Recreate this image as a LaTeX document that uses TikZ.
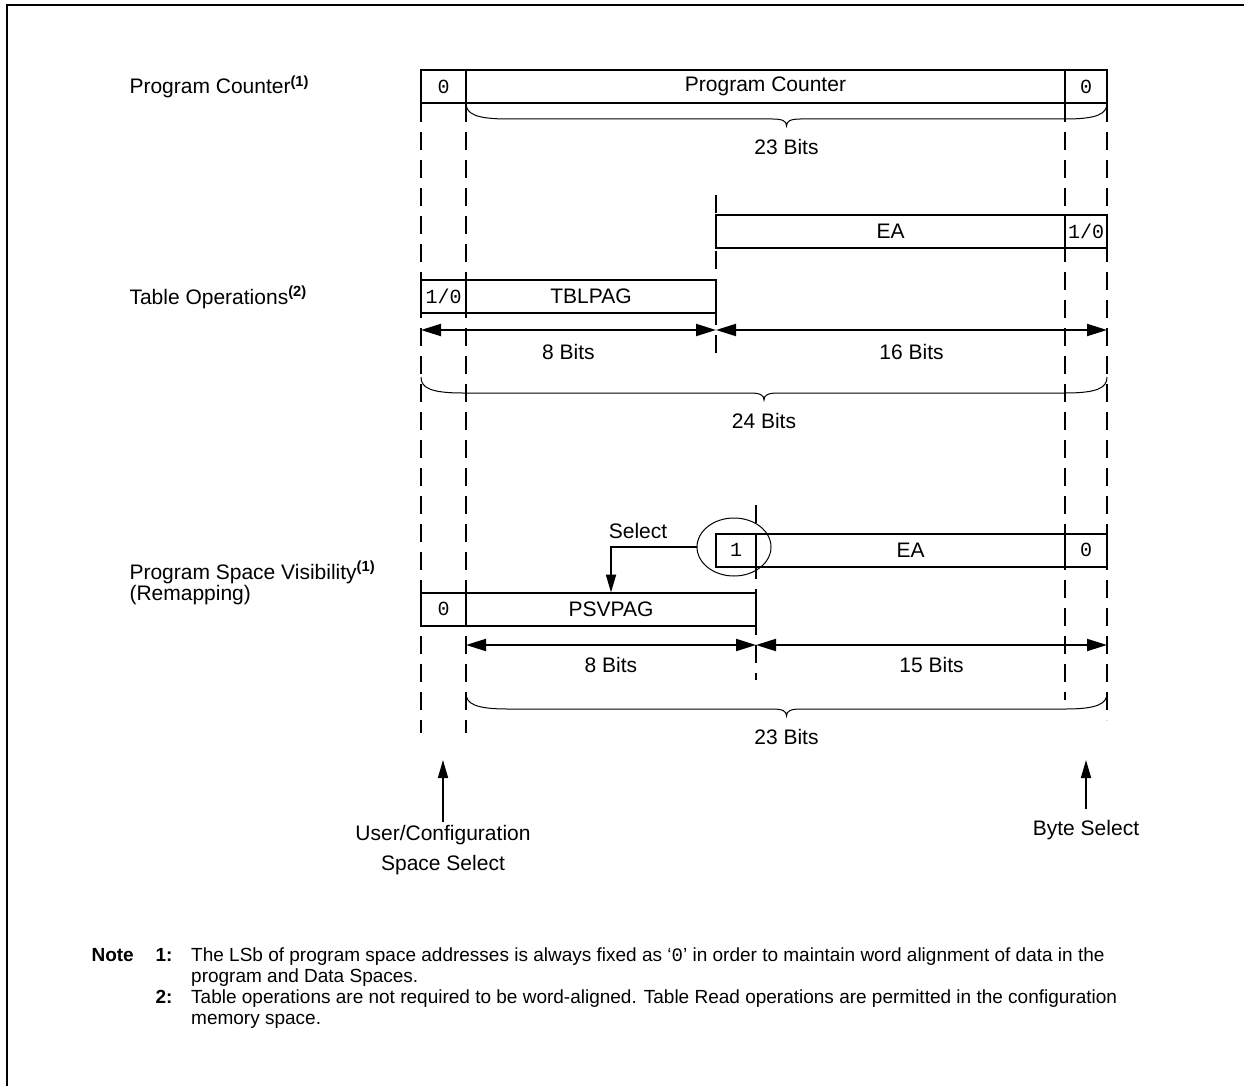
\documentclass[tikz,border=0pt]{standalone}
\usepackage{fontspec}
\setmainfont{Liberation Sans}
\newfontfamily\bitfont{Liberation Mono}
\usetikzlibrary{arrows.meta}
\usetikzlibrary{positioning}
\usetikzlibrary{shapes.geometric}

\newcommand{\lblsize}{\fontsize{21}{25}\selectfont}
\newcommand{\notesize}{\fontsize{19}{21}\selectfont}
\newcommand{\fnref}[1]{\textsuperscript{\bfseries(#1)}}
% brace under a field: name, left x, right x, top y, label
\newcommand{\bitbrace}[5]{%
    \pgfmathsetmacro{\bmid}{(#2+#3)/2}
    \draw[line width=1pt] (#2,#4) .. controls (#2,#4+11) and (#2+10,#4+16) .. (#2+42,#4+16)
      -- (\bmid-14,#4+16) .. controls (\bmid-4,#4+16) and (\bmid,#4+18) .. (\bmid,#4+23)
      .. controls (\bmid,#4+18) and (\bmid+4,#4+16) .. (\bmid+14,#4+16)
      -- (#3-42,#4+16) .. controls (#3-10,#4+16) and (#3,#4+11) .. (#3,#4);
    \node[font=\lblsize] (#1) at (\bmid,#4+44) {#5};
}

\tikzset{
    cell/.style={draw, line width=2pt, minimum height=33pt, inner sep=0pt,
        outer sep=0pt, font=\lblsize},
    bitcell/.style={cell, font=\bitfont\fontsize{20}{22}\selectfont},
    guide/.style={line width=2pt, dash pattern=on 18pt off 10pt},
    dimline/.style={line width=2pt,
        {Triangle[length=20pt,width=12pt]}-{Triangle[length=20pt,width=12pt]}},
    pointer/.style={line width=1.6pt, -{Triangle[length=18pt,width=10pt]}},
    dimlabel/.style={font=\lblsize, midway, yshift=-22pt},
    rowlabel/.style={font=\lblsize, anchor=base west},
    notetext/.style={font=\notesize, anchor=base west, inner xsep=0pt},
}

\begin{document}
\begin{tikzpicture}[x=1pt, y=-1pt]
    \useasboundingbox (0,0) rectangle (1244,1086);
    \draw[line width=2pt] (1244,5) -- (7,5) -- (7,1086);

    % bit column guides
    \foreach \gx/\gtop/\gbot in {421/104/733, 466/104/733, 1065/104/700,
        1107/104/720, 716/195/360, 756/505/680}
      \draw[guide] (\gx,\gtop) -- (\gx,\gbot);

    % row labels
    \node[rowlabel] (pclabel) at (126,94) {Program Counter\fnref{1}};
    \node[rowlabel] (tbllabel) at (126,304) {Table Operations\fnref{2}};
    \node[rowlabel] (psvlabel) at (126,579) {Program Space Visibility\fnref{1}};
    \node[rowlabel, inner ysep=1pt] (remaplabel) at (126,600) {(Remapping)};

    % program counter
    \node[bitcell, minimum width=45pt] (pcmsb) at (443.5,86.5) {0};
    \node[cell, minimum width=599pt, right=0pt of pcmsb] (pcmain) {Program Counter};
    \node[bitcell, minimum width=42pt, right=0pt of pcmain] (pclsb) {0};
    \bitbrace{pcbits}{466}{1107}{103}{23 Bits}

    % table operations
    \node[cell, minimum width=349pt] (tblea) at (890.5,231.5) {EA};
    \node[bitcell, minimum width=42pt, right=0pt of tblea] (tbllsb) {1/0};
    \node[bitcell, minimum width=45pt] (tblmsb) at (443.5,296.5) {1/0};
    \node[cell, minimum width=250pt, right=0pt of tblmsb] (tblpag) {TBLPAG};
    \coordinate (tblarrl) at (421,330);
    \coordinate (tblarrm) at (716,330);
    \coordinate (tblarrr) at (1107,330);
    \draw[dimline] (tblarrl) -- node[dimlabel] {8 Bits} (tblarrm);
    \draw[dimline] (tblarrm) -- node[dimlabel] {16 Bits} (tblarrr);
    \bitbrace{tblbits}{421}{1107}{377}{24 Bits}

    % program space visibility
    \node[bitcell, minimum width=40pt] (psvsel) at (736,550) {1};
    \node[cell, minimum width=309pt, right=0pt of psvsel] (psvea) {EA};
    \node[bitcell, minimum width=42pt, right=0pt of psvea] (psvlsb) {0};
    \node[bitcell, minimum width=45pt] (psvmsb) at (443.5,609) {0};
    \node[cell, minimum width=290pt, right=0pt of psvmsb] (psvpag) {PSVPAG};
    \node[draw, ellipse, line width=1pt, minimum width=74pt, minimum height=58pt]
      (selring) at (734,547) {};
    \draw[pointer, line width=2pt] (selring.west) -| (psvpag.north);
    \node[font=\lblsize] (seltext) at (638,531) {Select};
    \coordinate (psvarrl) at (466,645);
    \coordinate (psvarrm) at (756,645);
    \coordinate (psvarrr) at (1107,645);
    \draw[dimline] (psvarrl) -- node[dimlabel, yshift=2pt] {8 Bits} (psvarrm);
    \draw[dimline] (psvarrm) -- node[dimlabel, yshift=2pt] {15 Bits} (psvarrr);
    \bitbrace{psvbits}{466}{1107}{693}{23 Bits}

    % select pointers
    \node[font=\lblsize, align=center, anchor=north] (ucstext) at (443,822)
      {User/Configuration\\[5pt]Space Select};
    \coordinate (ucstip) at (443,760);
    \draw[pointer] (ucstext.north) -- (ucstip);
    \node[font=\lblsize, anchor=north] (bytetext) at (1086,817) {Byte Select};
    \coordinate (bytetip) at (1086,760);
    \draw[pointer] ([yshift=8pt]bytetext.north) -- (bytetip);

    % notes
    \node[font=\notesize\bfseries, anchor=base west] (notehead) at (88,961) {Note};
    \node[font=\notesize\bfseries, anchor=base west] (noteone) at (152,961) {1:};
    \node[font=\notesize\bfseries, anchor=base west] (notetwo) at (152,1003) {2:};
    \node[notetext] (noteonea) at (191,961)
      {The LSb of program space addresses is always fixed as `{\bitfont 0}' in order to maintain word alignment of data in the};
    \node[notetext] (noteoneb) at (191,982) {program and Data Spaces.};
    \node[notetext] (notetwoa) at (191,1003)
      {Table operations are not required to be word-aligned. Table Read operations are permitted in the configuration};
    \node[notetext] (notetwob) at (191,1024) {memory space.};
\end{tikzpicture}
\end{document}
